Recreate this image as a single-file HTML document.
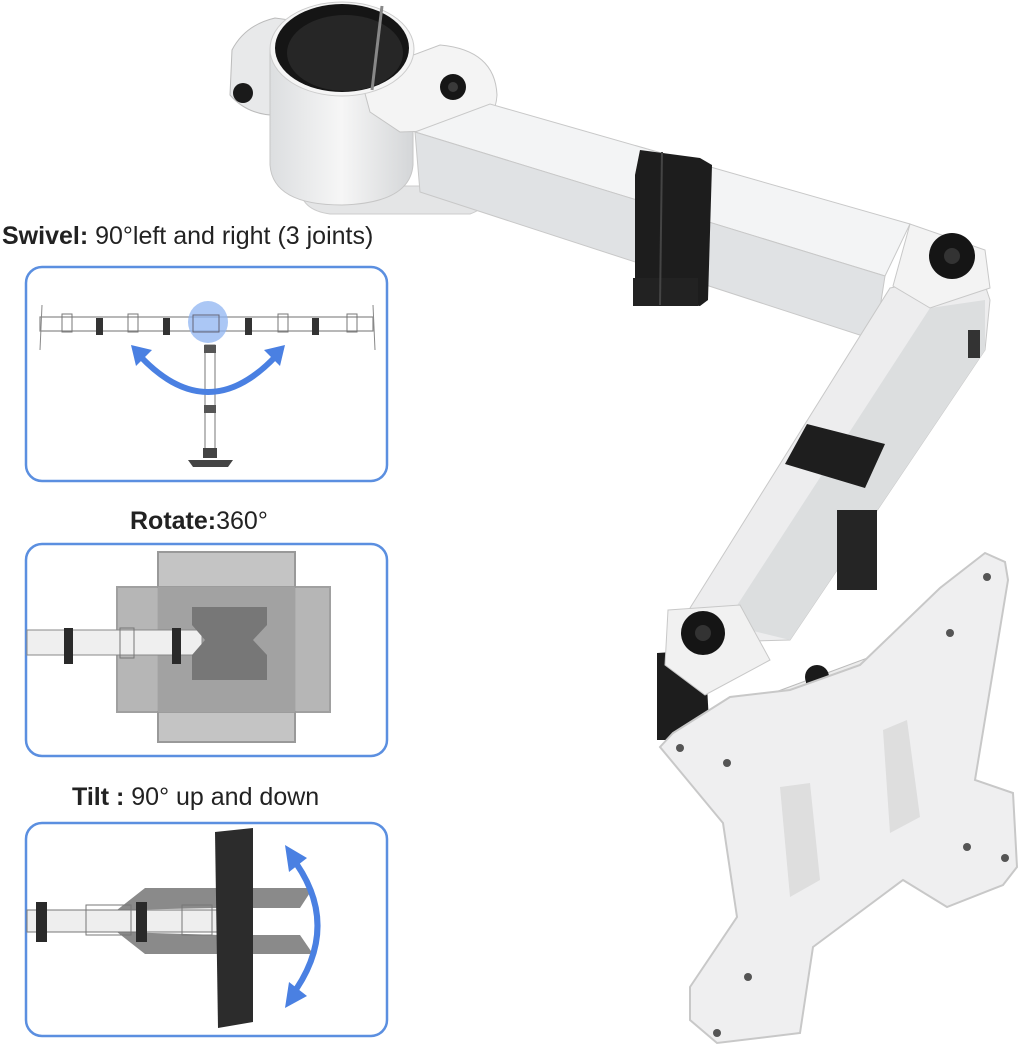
<!DOCTYPE html>
<html><head><meta charset="utf-8"><style>
html,body{margin:0;padding:0;background:#fff;}
body{width:1024px;height:1058px;position:relative;overflow:hidden;font-family:"Liberation Sans",sans-serif;}
.lbl{position:absolute;font-size:25px;color:#222;white-space:nowrap;}
svg{position:absolute;left:0;top:0;}
</style></head><body>
<svg width="1024" height="1058" viewBox="0 0 1024 1058">
<defs>
<linearGradient id="g3" x1="0" y1="0" x2="1" y2="0"><stop offset="0" stop-color="#dcdee0"/><stop offset="0.5" stop-color="#f6f6f6"/><stop offset="1" stop-color="#d4d6d8"/></linearGradient>
</defs>

<!-- ===== Panels ===== -->
<g fill="#fff" stroke="#5b8fe0" stroke-width="2.5">
<rect x="26" y="267" width="361" height="214" rx="16"/>
<rect x="26" y="544" width="361" height="212" rx="16"/>
<rect x="26" y="823" width="361" height="213" rx="16"/>
</g>
<!-- swivel -->
<rect x="40" y="317" width="333" height="14" fill="#fff" stroke="#888" stroke-width="1.2"/>
<g fill="none" stroke="#777" stroke-width="1"><rect x="62" y="314" width="10" height="18"/><rect x="128" y="314" width="10" height="18"/><rect x="278" y="314" width="10" height="18"/><rect x="347" y="314" width="10" height="18"/></g>
<line x1="42" y1="305" x2="40" y2="350" stroke="#888"/><line x1="373" y1="305" x2="375" y2="350" stroke="#888"/>
<g fill="#333"><rect x="96" y="318" width="7" height="17"/><rect x="163" y="318" width="7" height="17"/><rect x="245" y="318" width="7" height="17"/><rect x="312" y="318" width="7" height="17"/></g>
<rect x="205" y="345" width="10" height="112" fill="#fff" stroke="#777"/>
<rect x="204" y="345" width="12" height="8" fill="#555"/><rect x="204" y="405" width="12" height="8" fill="#555"/><rect x="203" y="448" width="14" height="10" fill="#444"/>
<polygon points="188,460 233,460 228,467 193,467" fill="#444"/>
<ellipse cx="208" cy="322" rx="20" ry="21" fill="#8fb4f2" opacity="0.75"/>
<rect x="193" y="315" width="26" height="17" fill="none" stroke="#667" stroke-width="1"/>
<path d="M140 356 Q208 428 276 356" fill="none" stroke="#4a80e2" stroke-width="6"/>
<polygon points="131,345 152,350 136,366" fill="#4a80e2"/><polygon points="285,345 264,350 280,366" fill="#4a80e2"/>
<!-- rotate -->
<rect x="158" y="552" width="137" height="190" fill="#c4c4c4" stroke="#999" stroke-width="2"/>
<rect x="117" y="587" width="213" height="125" fill="#b0b0b0" stroke="#999" stroke-width="2" opacity="0.92"/>
<rect x="158" y="587" width="137" height="125" fill="#a2a2a2"/>
<rect x="27" y="630" width="175" height="25" fill="#efefef" stroke="#888"/>
<rect x="120" y="628" width="14" height="30" fill="none" stroke="#777"/>
<g fill="#2a2a2a"><rect x="64" y="628" width="9" height="36"/><rect x="172" y="628" width="9" height="36"/></g>
<path d="M192 607 L267 607 L267 625 L253 640 L267 655 L267 680 L192 680 L192 655 L205 640 L192 625 Z" fill="#777"/>
<!-- tilt -->
<polygon points="117,910 145,888 313,888 300,908 220,908" fill="#8a8a8a"/>
<polygon points="117,932 145,954 313,954 300,935 220,935" fill="#8a8a8a"/>
<rect x="27" y="910" width="190" height="22" fill="#eee" stroke="#777"/>
<rect x="86" y="905" width="45" height="30" fill="none" stroke="#777"/>
<rect x="182" y="905" width="30" height="30" fill="none" stroke="#777"/>
<g fill="#2a2a2a"><rect x="36" y="902" width="11" height="40"/><rect x="136" y="902" width="11" height="40"/></g>
<polygon points="215,832 253,828 253,1022 218,1028" fill="#2c2c2c"/>
<path d="M290 855 Q345 925 290 998" fill="none" stroke="#4a80e2" stroke-width="6"/>
<polygon points="285,845 307,858 289,872" fill="#4a80e2"/><polygon points="285,1008 307,996 289,982" fill="#4a80e2"/>

<!-- ===== Arm ===== -->
<path d="M232 50 Q245 25 275 18 L290 20 L285 115 Q250 118 230 95 Z" fill="#e8e9ea" stroke="#bbb"/>
<circle cx="243" cy="93" r="10" fill="#1a1a1a"/>
<path d="M300 186 L480 186 Q495 205 470 214 L330 214 Q300 210 300 186 Z" fill="#e4e5e6" stroke="#ccc"/>
<path d="M270 50 L270 165 Q273 205 342 205 Q410 203 413 165 L413 50 Z" fill="url(#g3)" stroke="#c6c6c6"/>
<path d="M360 75 L440 45 Q495 50 497 95 Q495 128 460 130 L400 132 L370 112 Z" fill="#f4f4f4" stroke="#c4c4c4"/>
<circle cx="453" cy="87" r="13" fill="#161616"/><circle cx="453" cy="87" r="5" fill="#3a3a3a"/>
<ellipse cx="342" cy="49" rx="72" ry="47" fill="#f5f5f5" stroke="#ccc"/>
<ellipse cx="342" cy="48" rx="67" ry="44" fill="#151515"/>
<ellipse cx="345" cy="53" rx="58" ry="38" fill="#262626"/>
<line x1="382" y1="6" x2="372" y2="90" stroke="#888" stroke-width="3"/>
<!-- upper arm -->
<polygon points="415,132 490,104 910,224 885,276" fill="#f3f4f5" stroke="#c8c8c8"/>
<polygon points="415,132 885,276 875,340 420,192" fill="#e0e2e4" stroke="#c8c8c8"/>
<polygon points="640,150 700,158 712,165 708,300 700,306 640,300 635,285 635,175" fill="#1d1d1d"/>
<rect x="633" y="278" width="65" height="28" fill="#222"/>
<line x1="662" y1="152" x2="660" y2="305" stroke="#444" stroke-width="2"/>
<!-- lower arm -->
<polygon points="890,288 980,270 990,300 985,350 790,640 720,642 680,624" fill="#ededee" stroke="#c8c8c8"/>
<polygon points="930,308 985,300 985,350 790,640 725,624" fill="#dcdedf"/>
<polygon points="893,286 910,224 985,250 990,288 930,308" fill="#f3f3f3" stroke="#c8c8c8"/>
<circle cx="952" cy="256" r="23" fill="#151515"/><circle cx="952" cy="256" r="8" fill="#333"/>
<rect x="968" y="330" width="12" height="28" fill="#333"/>
<polygon points="807,424 885,444 865,488 785,464" fill="#1e1e1e"/>
<rect x="837" y="510" width="40" height="80" fill="#252525"/>
<!-- bottom joint -->
<polygon points="657,653 705,650 710,740 657,740" fill="#1d1d1d"/>
<polygon points="668,610 740,605 770,660 705,695 665,665" fill="#f1f1f1" stroke="#c8c8c8"/>
<circle cx="703" cy="633" r="22" fill="#151515"/><circle cx="703" cy="633" r="8" fill="#333"/>
<polygon points="773,693 870,657 880,690 793,730" fill="#ececec" stroke="#bbb"/>
<circle cx="817" cy="677" r="12" fill="#1a1a1a"/><rect x="806" y="680" width="22" height="10" fill="#1a1a1a"/>
<!-- VESA plate -->
<path d="M660 747 L673 733 L730 697 L790 690 L860 665 L940 588 L985 553 L1005 562 L1008 580 L975 780 L1013 793 L1017 867 L1003 885 L947 907 L903 880 L813 947 L800 1033 L717 1043 L690 1020 L690 987 L737 917 L723 823 Z" fill="#efeff0" stroke="#c8c8c8" stroke-width="2"/>
<polygon points="780,787 810,783 820,880 790,897" fill="#dedede"/>
<polygon points="883,730 907,720 920,817 890,833" fill="#dedede"/>
<g fill="#555"><circle cx="987" cy="577" r="4"/><circle cx="950" cy="633" r="4"/><circle cx="680" cy="748" r="4"/><circle cx="727" cy="763" r="4"/><circle cx="967" cy="847" r="4"/><circle cx="1005" cy="858" r="4"/><circle cx="748" cy="977" r="4"/><circle cx="717" cy="1033" r="4"/></g>
</svg>

<div class="lbl" style="left:2px;top:222px;"><b>Swivel:</b> 90°left and right (3 joints)</div>
<div class="lbl" style="left:130px;top:507px;"><b>Rotate:</b>360°</div>
<div class="lbl" style="left:72px;top:783px;"><b>Tilt :</b> 90° up and down</div>
</body></html>
